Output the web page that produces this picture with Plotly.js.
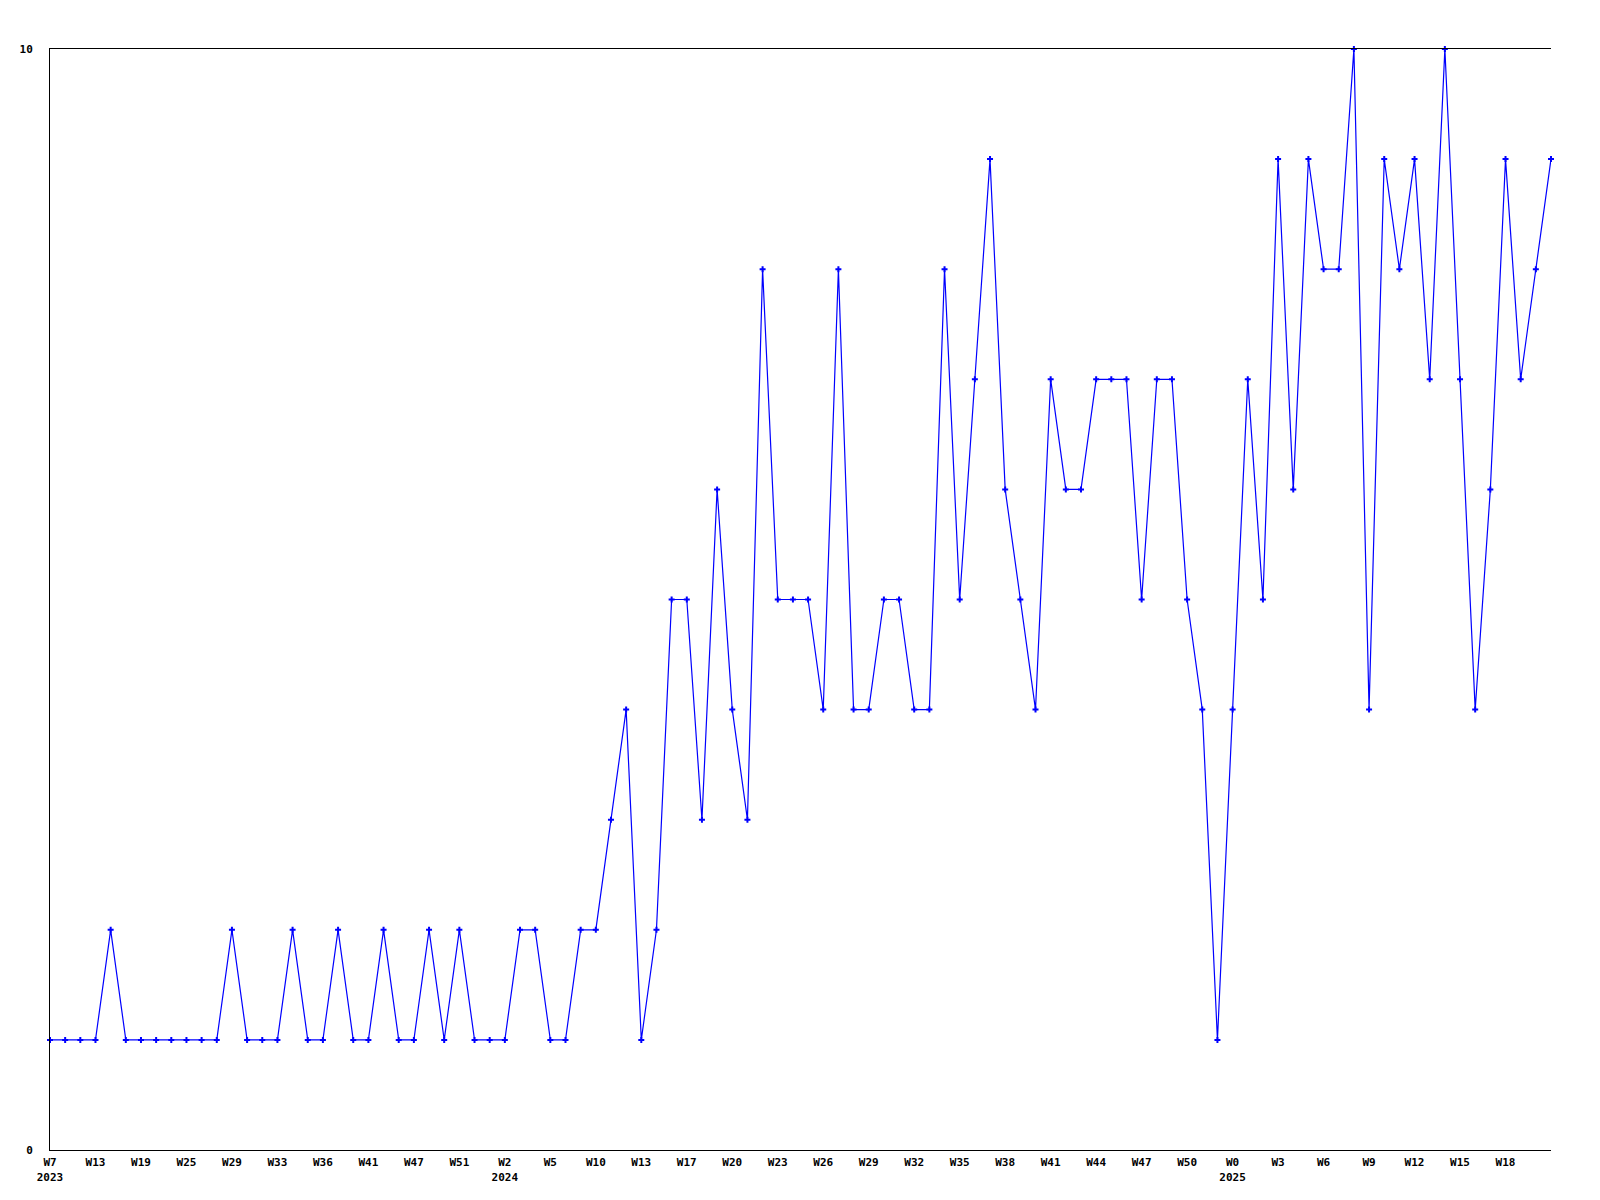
<!DOCTYPE html>
<html>
<head>
<meta charset="utf-8">
<script src="https://cdn.plot.ly/plotly-3.0.1.min.js"></script>
<style>html,body{margin:0;padding:0;background:#fff;}#chart{width:1600px;height:1200px;}</style>
</head>
<body>
<div id="chart"></div>
<script>
// Series values, one per period
const values = [
  1, 1, 1, 1, 2, 1, 1, 1, 1, 1,
  1, 1, 2, 1, 1, 1, 2, 1, 1, 2,
  1, 1, 2, 1, 1, 2, 1, 2, 1, 1,
  1, 2, 2, 1, 1, 2, 2, 3, 4, 1,
  2, 5, 5, 3, 6, 4, 3, 8, 5, 5,
  5, 4, 8, 4, 4, 5, 5, 4, 4, 8,
  5, 7, 9, 6, 5, 4, 7, 6, 6, 7,
  7, 7, 5, 7, 7, 5, 4, 1, 4, 7,
  5, 9, 6, 9, 8, 8, 10, 4, 9, 8,
  9, 7, 10, 7, 4, 6, 9, 7, 8, 9
];
// Tick labels, one every 3 periods
const tickLabels = [
  "W7<br>2023", "W13", "W19", "W25", "W29", "W33", "W36", "W41", "W47", "W51",
  "W2<br>2024", "W5", "W10", "W13", "W17", "W20", "W23", "W26", "W29", "W32",
  "W35", "W38", "W41", "W44", "W47", "W50", "W0<br>2025", "W3", "W6", "W9",
  "W12", "W15", "W18"
];
const tickStep = 3;
const yTicks = [0, 10];

const xIdx = values.map((_, i) => i);
const tickVals = tickLabels.map((_, i) => i * tickStep);

const font = {family: "DejaVu Sans Mono, monospace", size: 11, color: "#000", weight: "bold"};

Plotly.newPlot("chart", [{
  x: xIdx,
  y: values,
  type: "scatter",
  mode: "lines+markers",
  line: {color: "#0000ff", width: 1.2},
  marker: {color: "#0000ff", symbol: "cross", size: 5},
  cliponaxis: false,
  hoverinfo: "none"
}], {
  width: 1600,
  height: 1200,
  margin: {l: 50, r: 49, t: 49, b: 50},
  paper_bgcolor: "#fff",
  plot_bgcolor: "#fff",
  showlegend: false,
  font: font,
  xaxis: {
    range: [0, values.length - 1],
    tickvals: tickVals,
    ticktext: tickLabels,
    tickangle: 0,
    showgrid: false,
    zeroline: false,
    showline: true,
    mirror: true,
    linecolor: "#000",
    linewidth: 1,
    ticks: "",
    ticklabelstandoff: 2,
    tickfont: font
  },
  yaxis: {
    range: [0, 10],
    tickvals: yTicks,
    ticktext: yTicks.map(String),
    showgrid: false,
    zeroline: false,
    showline: true,
    linecolor: "#000",
    linewidth: 1,
    ticks: "",
    ticklabelstandoff: 14,
    tickfont: font
  }
}, {staticPlot: true, displayModeBar: false});
</script>
</body>
</html>
